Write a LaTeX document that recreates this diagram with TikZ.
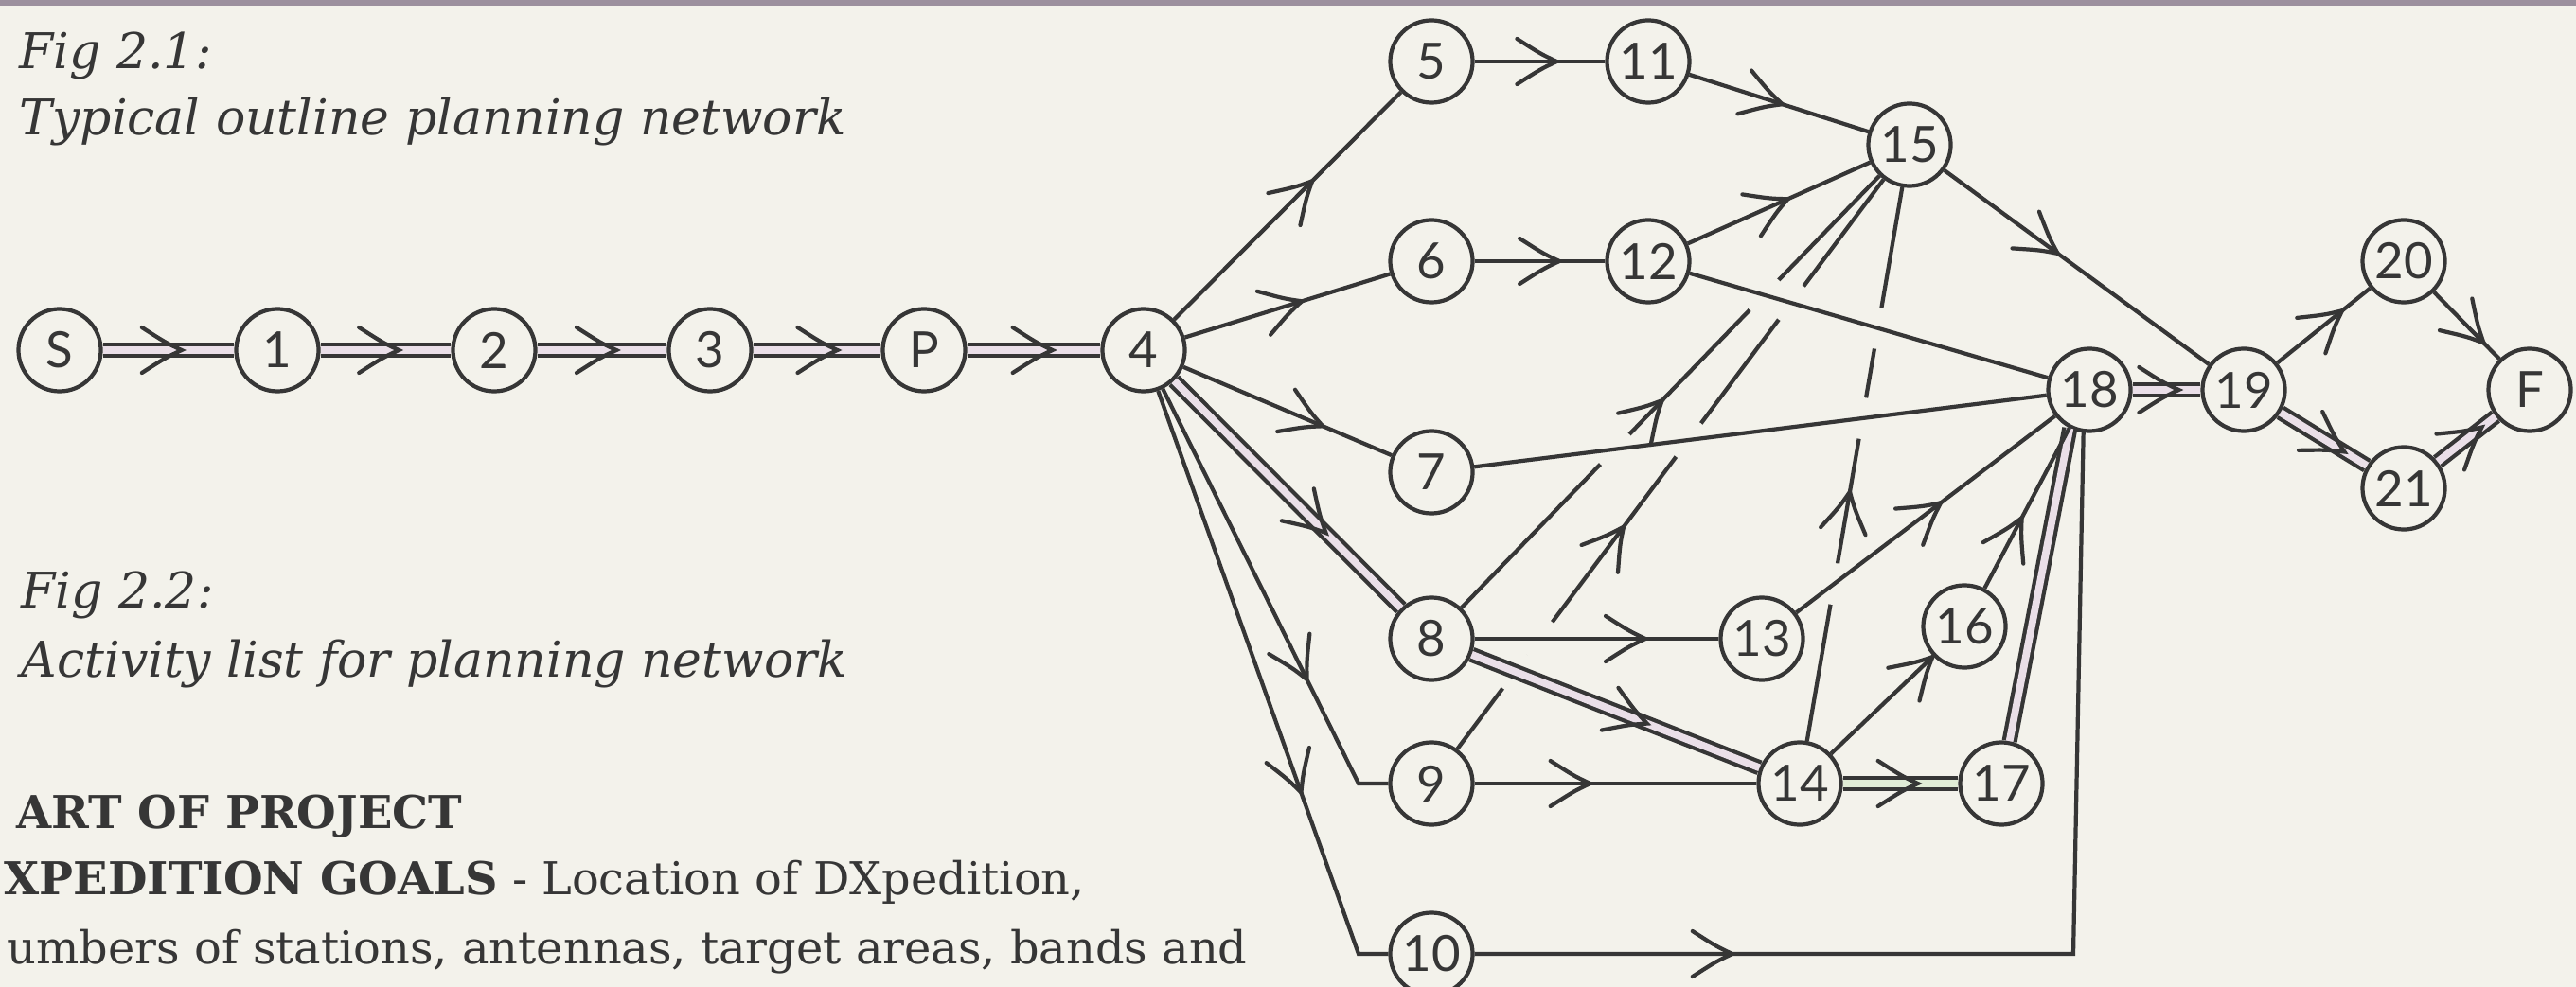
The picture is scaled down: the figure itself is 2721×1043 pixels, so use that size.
\documentclass[tikz,border=0pt]{standalone}
\usepackage{fontspec}
\setmainfont{DejaVu Serif}
\newfontfamily\nodefont{Lato}
\usetikzlibrary{decorations.markings,intersections,calc}
\definecolor{paper}{HTML}{F3F2EB}
\definecolor{ink}{HTML}{363636}
\definecolor{dblin}{HTML}{EADFE8}
\definecolor{dblgr}{HTML}{E0ECD6}
\definecolor{toprule}{HTML}{9C909E}
\newcommand\DblEdge[3]{\draw[dbl] (#1) -- (#2); \path[arr=#3] (#1) -- (#2);}
\begin{document}
\begin{tikzpicture}[x=0.01cm, y=-0.01cm,
  ev/.style={circle, draw=ink, line width=1.2pt, fill=paper, minimum size=0.87cm, inner sep=0pt,
    font=\nodefont\fontsize{15}{15}\selectfont, text=ink},
  ln/.style={draw=ink, line width=1.2pt},
  dbl/.style={draw=ink, line width=1.2pt, double=dblin, double distance=2.2pt},
  arr/.style={postaction={decorate, decoration={markings, mark=at position #1 with {
      \draw[ink, line width=1.2pt, line cap=round]
        (-0.42cm,0.24cm) .. controls (-0.17cm,0.08cm) .. (0,0)
        .. controls (-0.17cm,-0.08cm) .. (-0.42cm,-0.24cm);}}}},
  capt/.style={inner sep=0pt, text=ink, font=\fontsize{14.8}{17}\selectfont\itshape},
  bodytext/.style={inner sep=0pt, text=ink, font=\fontsize{13.6}{15}\selectfont},
]
\useasboundingbox (0,0) rectangle (2721,1043);
\fill[paper] (0,0) rectangle (2721,1043);
\draw[toprule, line width=0.06cm] (0,3) -- (2721,3);

% captions and text
\node[capt, anchor=base west] (c1) at (20,73) {Fig 2.1:};
\node[capt, anchor=base west] (c1b) at (20,143) {Typical outline planning network};
\node[capt, anchor=base west] (c2) at (22,642) {Fig 2.2:};
\node[capt, anchor=base west] (c2b) at (22,715) {Activity list for planning network};
\node[bodytext, anchor=base west] (t1) at (17,875) {\bfseries ART OF PROJECT};
\node[bodytext, anchor=base west] (t2) at (4,945) {\textbf{XPEDITION GOALS} - Location of DXpedition,};
\node[bodytext, anchor=base west] (t3) at (7,1018) {umbers of stations, antennas, target areas, bands and};

% events
\foreach \n/\x/\y in {S/63/370, 1/293/370, 2/522/370, 3/750/370, P/976/370, 4/1208/370,
  5/1512/65, 11/1741/65, 15/2017/153, 6/1512/276, 12/1741/276,
  7/1512/499, 8/1512/675, 13/1861/675, 9/1512/828, 14/1901/828,
  16/2075/662, 17/2114/828, 10/1512/1008,
  18/2207/412, 19/2370/412, 20/2539/276, 21/2539/516, F/2672/412}
  \node[ev] (n\n) at (\x,\y) {\n};

\coordinate (b9) at (1435,828);
\coordinate (b10) at (1435,1008);
\coordinate (b18) at (2190,1008);

% lines broken at crossings
\draw[ln, arr=0.48, name path=p815] (n8) -- (n15);
\draw[ln, arr=0.39, name path=p915] (n9) -- (n15);
\draw[ln, arr=0.45, name path=p1415] (n14) -- (n15);
\path[name path=p718] (n7) -- (n18);
\path[name path=p1218] (n12) -- (n18);
\path[name path=p813] (n8) -- (n13);
\path[name path=p814] (n8) -- (n14);
\path[name path=p1318] (n13) -- (n18);
\path[name intersections={of=p815 and p718, by=i1}];
\path[name intersections={of=p815 and p1218, by=i2}];
\path[name intersections={of=p915 and p813, by=i3}];
\path[name intersections={of=p915 and p814, by=i4}];
\path[name intersections={of=p915 and p718, by=i5}];
\path[name intersections={of=p915 and p1218, by=i6}];
\path[name intersections={of=p1415 and p1318, by=i7}];
\path[name intersections={of=p1415 and p718, by=i8}];
\path[name intersections={of=p1415 and p1218, by=i9}];
\foreach \k in {1,...,9} \fill[paper] (i\k) circle (0.22cm);

% crossing lines
\draw[ln] (n7) -- (n18);
\draw[ln] (n12) -- (n18);
\draw[ln, arr=0.70] (n8) -- (n13);
\DblEdge{n8}{n14}{0.61}
\draw[ln, arr=0.56] (n13) -- (n18);

% critical path (double lines)
\DblEdge{nS}{n1}{0.60}
\DblEdge{n1}{n2}{0.60}
\DblEdge{n2}{n3}{0.61}
\DblEdge{n3}{nP}{0.66}
\DblEdge{nP}{n4}{0.64}
\DblEdge{n4}{n8}{0.67}
\draw[dbl, double=dblgr] (n14) -- (n17); \path[arr=0.65] (n14) -- (n17);
\draw[dbl] (n17) -- (n18.243);
\DblEdge{n18}{n19}{0.68}
\DblEdge{n19}{n21}{0.74}
\DblEdge{n21}{nF}{0.76}

% other activities
\draw[ln, arr=0.61] (n4) -- (n5);
\draw[ln, arr=0.57] (n4) -- (n6);
\draw[ln, arr=0.67] (n4) -- (n7);
\draw[ln, arr=0.69] (n4) -- (b9) -- (n9);
\draw[ln, arr=0.68] (n4) -- (b10) -- (n10);
\draw[ln, arr=0.63] (n5) -- (n11);
\draw[ln, arr=0.65] (n6) -- (n12);
\draw[ln, arr=0.52] (n11) -- (n15);
\draw[ln, arr=0.55] (n12) -- (n15);
\draw[ln, arr=0.43] (n15) -- (n19);
\draw[ln, arr=0.70] (n19) -- (n20);
\draw[ln, arr=0.76] (n20) -- (nF);
\draw[ln, arr=0.41] (n9) -- (n14);
\draw[ln, arr=0.995] (n14) -- (n16);
\draw[ln, arr=0.44] (n16) -- (n18);
\draw[ln, arr=0.23] (n10) -- (b18) -- (n18.262);
\end{tikzpicture}
\end{document}
